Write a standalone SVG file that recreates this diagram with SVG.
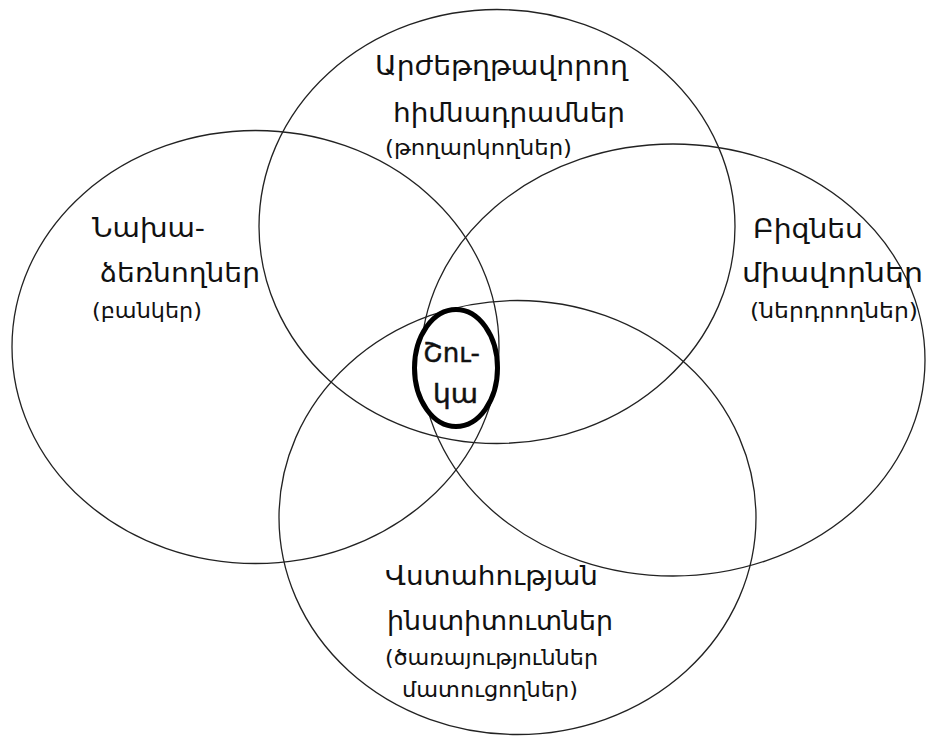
<svg xmlns="http://www.w3.org/2000/svg" width="926" height="736" viewBox="0 0 926 736">
<style>
.ring{fill:none;stroke:#222;stroke-width:1.3}
.core{fill:#fff;stroke:#000;stroke-width:5}
.t{font-family:"DejaVu Sans","Noto Sans",sans-serif;font-stretch:condensed;fill:#111}
.big{font-size:27px}
.small{font-size:21px}
</style>
<rect width="926" height="736" fill="#fff"/>
<g id="connectors"/>
<g id="node-left">
<ellipse class="ring" cx="255.5" cy="347" rx="243.5" ry="216.5"/>
<text class="t big" x="92" y="237" textLength="113" lengthAdjust="spacingAndGlyphs">Նախա-</text>
<text class="t big" x="100" y="282" textLength="160" lengthAdjust="spacingAndGlyphs">ձեռնողներ</text>
<text class="t small" x="92" y="318" textLength="110" lengthAdjust="spacingAndGlyphs">(բանկեր)</text>
</g>
<g id="node-top">
<ellipse class="ring" cx="497" cy="226.5" rx="238" ry="217"/>
<text class="t big" x="375" y="75" textLength="253" lengthAdjust="spacingAndGlyphs">Արժեթղթավորող</text>
<text class="t big" x="393" y="122" textLength="232" lengthAdjust="spacingAndGlyphs">հիմնադրամներ</text>
<text class="t small" x="385" y="155" textLength="187" lengthAdjust="spacingAndGlyphs">(թողարկողներ)</text>
</g>
<g id="node-right">
<ellipse class="ring" cx="673" cy="360" rx="252" ry="216"/>
<text class="t big" x="753" y="238" textLength="110" lengthAdjust="spacingAndGlyphs">Բիզնես</text>
<text class="t big" x="742" y="282" textLength="181" lengthAdjust="spacingAndGlyphs">միավորներ</text>
<text class="t small" x="750" y="318" textLength="168" lengthAdjust="spacingAndGlyphs">(ներդրողներ)</text>
</g>
<g id="node-bottom">
<ellipse class="ring" cx="517.5" cy="517.5" rx="238.5" ry="217"/>
<text class="t big" x="385" y="585" textLength="213" lengthAdjust="spacingAndGlyphs">Վստահության</text>
<text class="t big" x="387" y="630" textLength="226" lengthAdjust="spacingAndGlyphs">ինստիտուտներ</text>
<text class="t small" x="385" y="665" textLength="213" lengthAdjust="spacingAndGlyphs">(ծառայություններ</text>
<text class="t small" x="402" y="697" textLength="176" lengthAdjust="spacingAndGlyphs">մատուցողներ)</text>
</g>
<g id="node-center">
<ellipse class="core" cx="456" cy="368" rx="41.5" ry="58.5"/>
<text class="t big" x="423" y="362" textLength="57" lengthAdjust="spacingAndGlyphs" style="stroke:#111;stroke-width:0.4">Շու-</text>
<text class="t big" x="433" y="403" textLength="45" lengthAdjust="spacingAndGlyphs" style="stroke:#111;stroke-width:0.4">կա</text>
</g>
</svg>
